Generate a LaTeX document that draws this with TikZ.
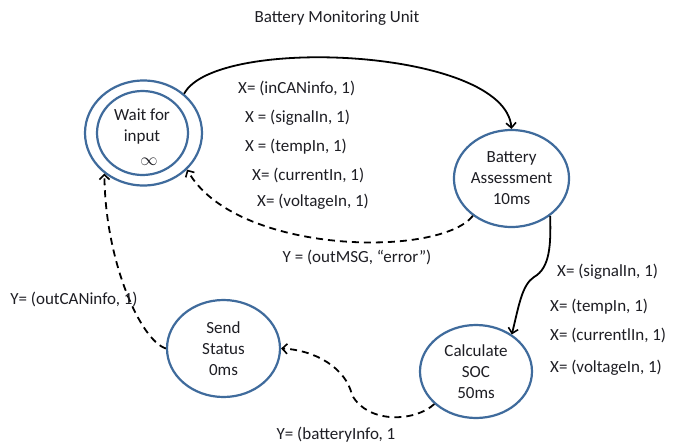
\documentclass[tikz,border=0pt]{standalone}
\usepackage{fontspec}
\setmainfont{Carlito}
\usetikzlibrary{shapes.geometric,arrows.meta}
\definecolor{stateblue}{HTML}{3F6B9C}
\definecolor{ink}{HTML}{1E1E24}
\tikzset{
  state/.style={ellipse, draw=stateblue, line width=2.2pt, inner sep=0pt,
    minimum width=#1, align=center, text=ink,
    font=\fontsize{17}{21}\selectfont},
  state/.default=114pt,
  lbl/.style={anchor=west, inner sep=0pt, text=ink, font=\fontsize{17}{21}\selectfont},
  clbl/.style={inner sep=0pt, text=ink, font=\fontsize{17}{21}\selectfont},
  flow/.style={line width=1.8pt, -{Straight Barb[length=5pt,width=10pt,line width=1.6pt]}},
  reply/.style={flow, dash pattern=on 7pt off 5pt}
}
\begin{document}
\begin{tikzpicture}[x=1pt,y=-1pt]
\useasboundingbox[fill=white] (0,0) rectangle (673,445);

% title
\node[clbl] (title) at (337,18) {Battery Monitoring Unit};

% states
\node[state=117pt, minimum height=105pt] (wait) at (143.5,133) {};
\node[state=91pt, minimum height=84pt] (waitin) at (142.5,133) {};
\node[clbl, align=center] (waittxt) at (142,127) {Wait for\\input};
\node[clbl] (waitinf) at (149,162) {$\infty$};

\node[state=113pt, minimum height=97pt] (assess) at (511.5,178.5) {Battery\\Assessment\\10ms};
\node[state=112pt, minimum height=93pt] (calc) at (476,371.5) {Calculate\\SOC\\50ms};
\node[state=113pt, minimum height=97pt] (send) at (223.5,348.5) {Send\\Status\\0ms};

% transitions
\draw[flow] (wait.44) .. controls (215,35) and (505,48) .. (assess.north);
\draw[reply] (assess.224) .. controls (440,258) and (235,255) .. (wait.-40);
\draw[flow] (assess.-44) .. controls (551,245) and (550,268) .. (534,277)
  .. controls (522,285) and (519,305) .. (calc.46);
\draw[reply] (calc.218) .. controls (415,422) and (368,424) .. (352,395)
  .. controls (346,368) and (315,350) .. (send.east);
\draw[reply] (send.west) .. controls (140,340) and (105,260) .. (wait.226);

% inputs to the assessment
\node[lbl] (i1) at (238,88) {X= (inCANinfo, 1)};
\node[lbl] (i2) at (245,118) {X = (signalIn, 1)};
\node[lbl] (i3) at (245,147) {X = (tempIn, 1)};
\node[lbl] (i4) at (252,175) {X= (currentIn, 1)};
\node[lbl] (i5) at (257,202) {X= (voltageIn, 1)};

% inputs to the SOC calculation
\node[lbl] (c1) at (557,272) {X= (signalIn, 1)};
\node[lbl] (c2) at (550,307) {X= (tempIn, 1)};
\node[lbl] (c3) at (550,335) {X= (currentlIn, 1)};
\node[lbl] (c4) at (550,368) {X= (voltageIn, 1)};

% outputs
\node[clbl] (o1) at (357,257) {Y = (outMSG, “error”)};
\node[clbl] (o2) at (336,435) {Y= (batteryInfo, 1};
\node[clbl] (o3) at (74,299) {Y= (outCANinfo, 1)};
\end{tikzpicture}
\end{document}
